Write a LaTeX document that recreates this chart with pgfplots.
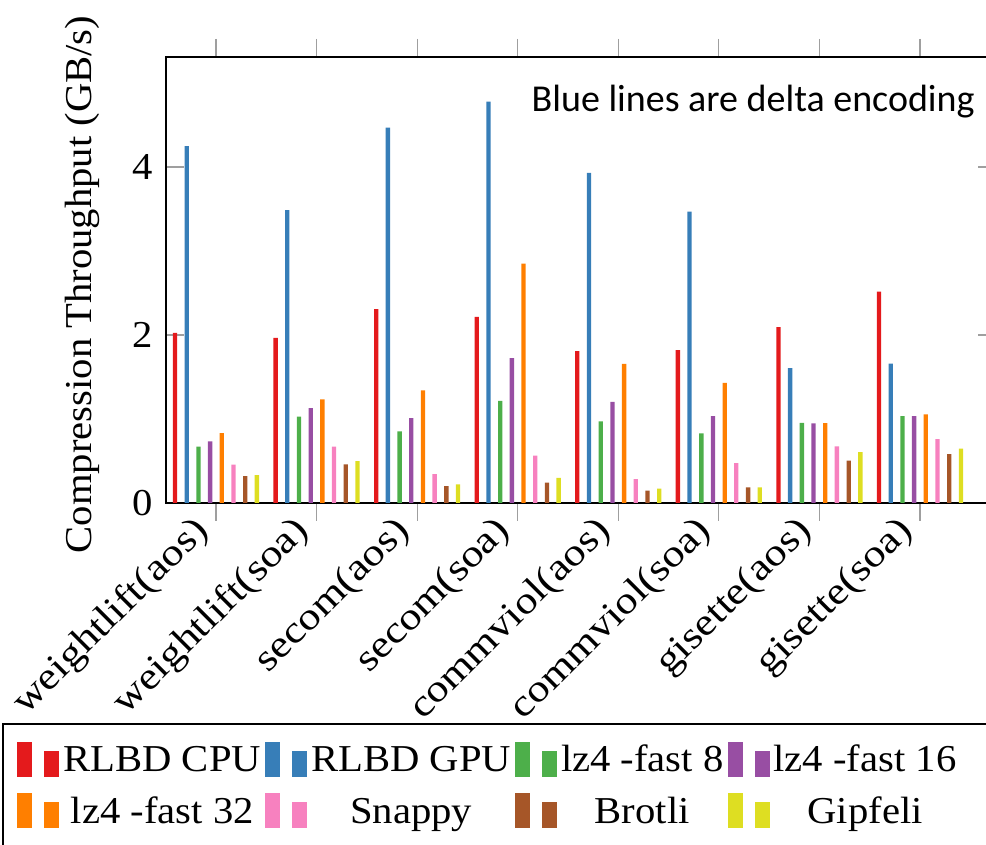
\documentclass[border=0pt]{standalone}
\usepackage{fontspec}
\setmainfont{Liberation Serif}[FakeStretch=1.07]
\newfontfamily\tickfont{Liberation Serif}[FakeStretch=1.16]
\newfontfamily\calibri{Carlito}
\usepackage{pgfplots}
\pgfplotsset{compat=1.18}

\definecolor{cRed}{RGB}{228,26,28}
\definecolor{cBlue}{RGB}{55,126,184}
\definecolor{cGreen}{RGB}{77,175,74}
\definecolor{cPurple}{RGB}{152,78,163}
\definecolor{cOrange}{RGB}{255,127,0}
\definecolor{cPink}{RGB}{247,129,191}
\definecolor{cBrown}{RGB}{166,86,40}
\definecolor{cYellow}{RGB}{222,222,34}

\newcommand{\fsz}{\fontsize{19}{23}\selectfont}

% legend: two bars, bottoms on the text baseline
\pgfplotsset{
  /pgfplots/ybar legend/.style={
    /pgfplots/legend image code/.code={%
      \fill[##1,draw=none] (0pt,-5.4pt) rectangle (7.5pt,12.1pt);
      \fill[##1,draw=none] (13.5pt,-5.4pt) rectangle (21pt,7.6pt);}},
}

\begin{document}
\begin{tikzpicture}
\begin{axis}[
    name=ax,
    at={(0,0)}, anchor=south west,
    scale only axis,
    width=415pt, height=223pt,
    ybar, bar width=0.043,
    xmin=-0.497, xmax=7.756,
    ymin=0, ymax=5.31,
    xtick={0,1,2,3,4,5,6,7},
    xticklabels={weightlift(aos),weightlift(soa),secom(aos),secom(soa),commviol(aos),commviol(soa),gisette(aos),gisette(soa)},
    ytick={0,2,4},
    xtick pos=both, ytick pos=both,
    xticklabel pos=lower, yticklabel pos=left,
    tick align=inside,
    xtick align=outside,
    major tick length=9pt,
    tick style={gray!75, line width=0.6pt},
    axis line style={line width=1pt},
    /pgf/number format/assume math mode=true,
    tick label style={font=\fsz},
    x tick label style={font=\tickfont\fsz, rotate=45, anchor=east, inner sep=1pt, xshift=-5pt, yshift=3pt},
    y tick label style={xshift=-3pt},
    ylabel={Compression Throughput (GB/s)},
    ylabel style={font=\fsz, inner sep=0pt, at={(axis description cs:-0.0795,0.49)}, anchor=south},
    legend columns=4,
    legend cell align=center,
    legend style={at={(-0.19639,-0.49552)}, anchor=north west, draw=none, fill=none,
      font=\fsz, inner xsep=7pt, inner ysep=8.75pt, row sep=7.2pt,
      nodes={inner sep=2pt, text height=0.72em, text depth=0.15em}},
]
\addplot[fill=cRed, draw=none, bar shift=-0.407] coordinates {
    (0,2.025) (1,1.966) (2,2.307) (3,2.216) (4,1.807) (5,1.82) (6,2.093) (7,2.517)};
\addlegendentry{RLBD CPU}
\addplot[fill=cBlue, draw=none, bar shift=-0.291] coordinates {
    (0,4.25) (1,3.488) (2,4.47) (3,4.78) (4,3.93) (5,3.468) (6,1.605) (7,1.66)};
\addlegendentry{RLBD GPU}
\addplot[fill=cGreen, draw=none, bar shift=-0.174] coordinates {
    (0,0.67) (1,1.027) (2,0.852) (3,1.217) (4,0.971) (5,0.828) (6,0.955) (7,1.034)};
\addlegendentry{lz4 -fast 8}
\addplot[fill=cPurple, draw=none, bar shift=-0.058] coordinates {
    (0,0.733) (1,1.13) (2,1.01) (3,1.724) (4,1.205) (5,1.034) (6,0.947) (7,1.034)};
\addlegendentry{lz4 -fast 16}
\addplot[fill=cOrange, draw=none, bar shift=0.058] coordinates {
    (0,0.832) (1,1.233) (2,1.34) (3,2.85) (4,1.657) (5,1.43) (6,0.951) (7,1.054)};
\addlegendentry{lz4 -fast 32}
\addplot[fill=cPink, draw=none, bar shift=0.174] coordinates {
    (0,0.456) (1,0.67) (2,0.345) (3,0.563) (4,0.285) (5,0.476) (6,0.674) (7,0.761)};
\addlegendentry{Snappy}
\addplot[fill=cBrown, draw=none, bar shift=0.291] coordinates {
    (0,0.321) (1,0.46) (2,0.20) (3,0.242) (4,0.147) (5,0.186) (6,0.503) (7,0.583)};
\addlegendentry{Brotli}
\addplot[fill=cYellow, draw=none, bar shift=0.407] coordinates {
    (0,0.333) (1,0.50) (2,0.222) (3,0.30) (4,0.17) (5,0.186) (6,0.606) (7,0.646)};
\addlegendentry{Gipfeli}
\end{axis}
\node[anchor=base east, inner sep=0pt, font=\calibri\fontsize{19}{23}\selectfont]
  at (404.5pt,195.5pt) {Blue lines are delta encoding};
\draw[line width=0.75pt] (-81.5pt,-200pt) -- (-81.5pt,-110.5pt) -- (440pt,-110.5pt);
\pgfresetboundingbox
\path[use as bounding box] (-83pt,-171pt) rectangle (410pt,251.5pt);
\end{tikzpicture}
\end{document}
